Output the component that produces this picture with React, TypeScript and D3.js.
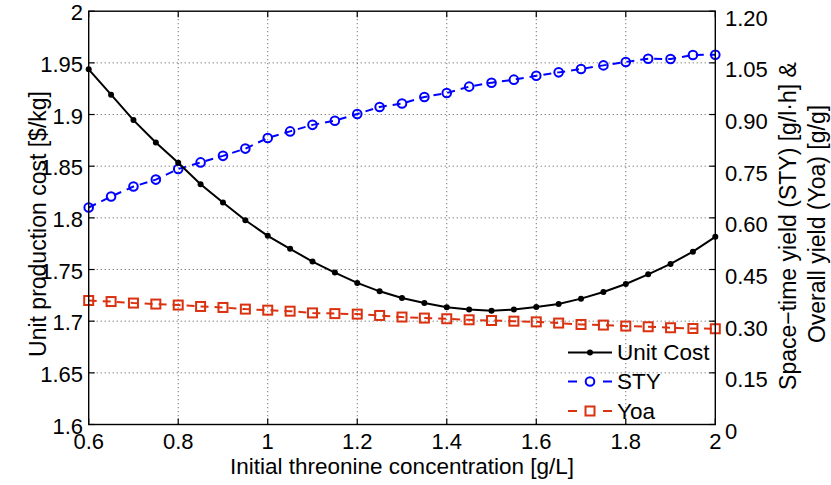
import React from "react";
import * as d3 from "d3";

const concentration = [0.6,0.65,0.7,0.75,0.8,0.85,0.9,0.95,1.0,1.05,1.1,1.15,1.2,1.25,1.3,1.35,1.4,1.45,1.5,1.55,1.6,1.65,1.7,1.75,1.8,1.85,1.9,1.95,2.0];
const unitCost = [1.9437,1.9192,1.8946,1.873,1.8533,1.8326,1.8148,1.7977,1.7826,1.770,1.7577,1.747,1.737,1.7289,1.7225,1.7176,1.7134,1.7114,1.7102,1.7112,1.7138,1.7167,1.7218,1.7283,1.736,1.7453,1.7554,1.7673,1.7816];
const sty = [0.630,0.662,0.691,0.711,0.742,0.761,0.780,0.801,0.832,0.851,0.870,0.882,0.9015,0.922,0.932,0.951,0.9625,0.981,0.9924,1.0012,1.0125,1.0224,1.0322,1.0427,1.0526,1.0621,1.0612,1.0729,1.0735];
const yoa = [0.360,0.357,0.3526,0.3497,0.3468,0.3427,0.3398,0.335,0.332,0.329,0.324,0.322,0.3205,0.3166,0.312,0.309,0.307,0.304,0.302,0.300,0.298,0.2945,0.2904,0.2887,0.2858,0.2838,0.2809,0.2788,0.278];

const xTicks = [0.6,0.8,1,1.2,1.4,1.6,1.8,2];
const xTickLabels = ["0.6","0.8","1","1.2","1.4","1.6","1.8","2"];
const yLeftTicks = [1.6,1.65,1.7,1.75,1.8,1.85,1.9,1.95,2];
const yLeftLabels = ["1.6","1.65","1.7","1.75","1.8","1.85","1.9","1.95","2"];
const yRightTicks = [0,0.15,0.3,0.45,0.6,0.75,0.9,1.05,1.2];
const yRightLabels = ["0","0.15","0.30","0.45","0.60","0.75","0.90","1.05","1.20"];

const BLUE = "#0000FF";
const RED = "#DA3210";
const FONT = "'Liberation Sans', Arial, Helvetica, sans-serif";

export default function App() {
  const L = 88.7, R = 715.3, T = 11.2, B = 424.5;
  const x = d3.scaleLinear().domain([0.6, 2]).range([L, R]);
  const yL = d3.scaleLinear().domain([1.6, 2]).range([B, T]);
  const yR = d3.scaleLinear().domain([0, 1.2]).range([B, T]);

  const costLine = d3.line<number>().x((_, i) => x(concentration[i])).y((d) => yL(d))(unitCost) || "";
  const styLine = d3.line<number>().x((_, i) => x(concentration[i])).y((d) => yR(d))(sty) || "";
  const yoaLine = d3.line<number>().x((_, i) => x(concentration[i])).y((d) => yR(d))(yoa) || "";

  const tick = 6;
  const legX0 = 568, legX1 = 612, legTx = 617;
  const legY = [352.5, 381.5, 411];

  return (
    <svg width={831} height={485} style={{ position: "absolute", left: 0, top: 0, background: "#fff" }} fontFamily={FONT}>
      <rect x={0} y={0} width={831} height={485} fill="#fff" />
      {/* grid */}
      <g stroke="#555" strokeWidth={1} strokeDasharray="1,3">
        {xTicks.slice(1, -1).map((t) => (
          <line key={"gx" + t} x1={x(t)} x2={x(t)} y1={T} y2={B} />
        ))}
        {yLeftTicks.slice(1, -1).map((t) => (
          <line key={"gy" + t} x1={L} x2={R} y1={yL(t)} y2={yL(t)} />
        ))}
      </g>
      {/* ticks */}
      <g stroke="#000" strokeWidth={1.2}>
        {xTicks.map((t) => (
          <g key={"tx" + t}>
            <line x1={x(t)} x2={x(t)} y1={B} y2={B - tick} />
            <line x1={x(t)} x2={x(t)} y1={T} y2={T + tick} />
          </g>
        ))}
        {yLeftTicks.map((t) => (
          <line key={"tl" + t} x1={L} x2={L + tick} y1={yL(t)} y2={yL(t)} />
        ))}
        {yRightTicks.map((t) => (
          <line key={"tr" + t} x1={R} x2={R - tick} y1={yR(t)} y2={yR(t)} />
        ))}
      </g>
      {/* data */}
      <path d={yoaLine} fill="none" stroke={RED} strokeWidth={2} strokeDasharray="8,6" />
      {yoa.map((d, i) => (
        <rect key={"yo" + i} x={x(concentration[i]) - 4.5} y={yR(d) - 4.5} width={9} height={9} fill="none" stroke={RED} strokeWidth={2} />
      ))}
      <path d={styLine} fill="none" stroke={BLUE} strokeWidth={2} strokeDasharray="8,6" />
      {sty.map((d, i) => (
        <circle key={"st" + i} cx={x(concentration[i])} cy={yR(d)} r={4.3} fill="none" stroke={BLUE} strokeWidth={2} />
      ))}
      <path d={costLine} fill="none" stroke="#000" strokeWidth={2} />
      {unitCost.map((d, i) => (
        <circle key={"uc" + i} cx={x(concentration[i])} cy={yL(d)} r={3} fill="#000" />
      ))}
      {/* axes box */}
      <rect x={L} y={T} width={R - L} height={B - T} fill="none" stroke="#000" strokeWidth={1.4} />
      {/* tick labels */}
      <g fontSize={22} fill="#000">
        {xTicks.map((t, i) => (
          <text key={"lx" + t} x={x(t)} y={449} textAnchor="middle">{xTickLabels[i]}</text>
        ))}
        {yLeftTicks.map((t, i) => (
          <text key={"ll" + t} x={83} y={yL(t) + 1.5} textAnchor="end" dominantBaseline="central">{yLeftLabels[i]}</text>
        ))}
        {yRightTicks.map((t, i) => (
          <text key={"lr" + t} x={725} y={yR(t) + 7} textAnchor="start" dominantBaseline="central">{yRightLabels[i]}</text>
        ))}
      </g>
      {/* axis titles */}
      <g fontSize={23} fill="#000">
        <text x={(L + R) / 2} y={474} fontSize={22.5} textAnchor="middle">Initial threonine concentration [g/L]</text>
        <text transform={`translate(46,224) rotate(-90)`} textAnchor="middle">Unit production cost [$/kg]</text>
        <text transform={`translate(796,226) rotate(-90)`} textAnchor="middle">Space−time yield (STY) [g/l·h] &amp;</text>
        <text transform={`translate(825,224) rotate(-90)`} textAnchor="middle">Overall yield (Yoa) [g/g]</text>
      </g>
      {/* legend */}
      <g>
        <line x1={legX0} x2={legX1} y1={legY[0]} y2={legY[0]} stroke="#000" strokeWidth={2} />
        <circle cx={(legX0 + legX1) / 2} cy={legY[0]} r={3} fill="#000" />
        <line x1={legX0} x2={legX1} y1={legY[1]} y2={legY[1]} stroke={BLUE} strokeWidth={2} strokeDasharray="9,26" />
        <circle cx={(legX0 + legX1) / 2} cy={legY[1]} r={4.3} fill="none" stroke={BLUE} strokeWidth={2} />
        <line x1={legX0} x2={legX1} y1={legY[2]} y2={legY[2]} stroke={RED} strokeWidth={2} strokeDasharray="9,26" />
        <rect x={(legX0 + legX1) / 2 - 4.5} y={legY[2] - 4.5} width={9} height={9} fill="none" stroke={RED} strokeWidth={2} />
        <g fontSize={22.5} fill="#000">
          <text x={legTx} y={legY[0]} dominantBaseline="central">Unit Cost</text>
          <text x={legTx} y={legY[1]} dominantBaseline="central">STY</text>
          <text x={legTx} y={legY[2]} dominantBaseline="central">Yoa</text>
        </g>
      </g>
    </svg>
  );
}
